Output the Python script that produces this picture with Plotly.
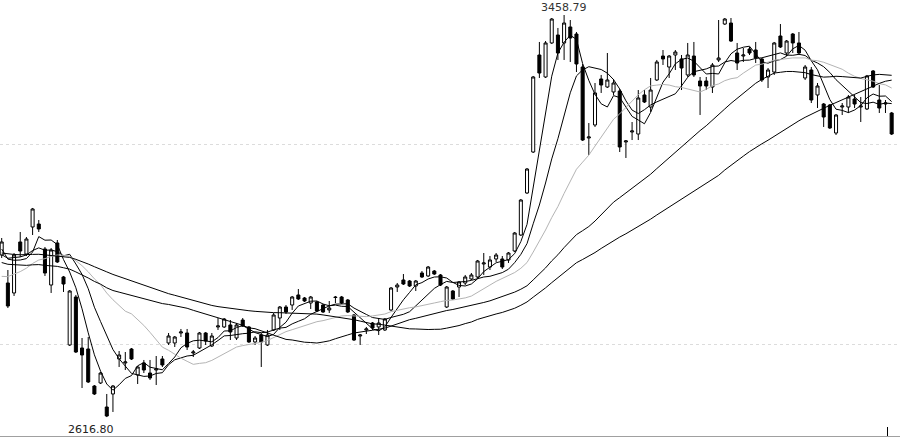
import pandas as pd
import plotly.graph_objects as go

# Closes before the first visible candle (only used so the long moving averages start as in the picture)
prior_closes = [2990, 3005, 2998, 3012, 2985, 2995, 3008, 3020, 3002, 2990,
                2978, 2995, 3010, 3018, 3000, 2992, 2985, 3003, 3015, 3008,
                2996, 2988, 3000, 3012, 3006, 2994, 2982, 2990, 3004, 3010,
                2998, 2986, 2975, 2968, 2955, 2940, 2925, 2905, 2885,
                2870, 2858, 2850, 2862, 2845, 2855, 2868, 2860, 2872, 2885,
                2905, 2925, 2940, 2952, 2948, 2960, 2955, 2968, 2962, 2975]

opens = [2956.2, 2897.6, 2876.7, 2983.5, 2958.3, 3014.9, 3021.1, 2968.8, 2893.4, 2981.4,
         2910.2, 2767.8, 2868.3, 2761.5, 2759.4, 2681.9, 2688.2, 2637.9, 2665.2, 2738.5,
         2730.1, 2759.4, 2705.0, 2730.1, 2709.1, 2715.4, 2738.5, 2772.0, 2772.0, 2792.9,
         2792.9, 2751.0, 2761.5, 2792.9, 2765.7, 2805.5, 2805.5, 2809.7, 2782.4, 2820.1,
         2805.5, 2774.1, 2788.7, 2767.8, 2799.2, 2824.3, 2847.3, 2851.5, 2872.5, 2866.2,
         2855.7, 2857.8, 2851.5, 2841.1, 2868.3, 2868.3, 2862.0, 2830.6, 2786.6, 2799.2,
         2813.8, 2805.5, 2799.2, 2841.1, 2889.2, 2903.9, 2901.8, 2891.3, 2918.5, 2912.3,
         2922.7, 2914.4, 2847.3, 2880.8, 2889.2, 2897.6, 2906.0, 2910.2, 2937.4, 2931.1,
         2947.9, 2947.9, 2945.8, 2964.6, 2998.1, 3086.1, 3171.9, 3375.0, 3329.0, 3400.2,
         3416.9, 3400.2, 3433.7, 3419.0, 3349.9, 3201.2, 3228.5, 3324.8, 3308.0, 3297.6,
         3299.6, 3192.9, 3213.8, 3209.6, 3291.3, 3266.1, 3322.7, 3372.9, 3349.9, 3375.0,
         3366.7, 3333.2, 3372.9, 3320.6, 3320.6, 3308.0, 3364.6, 3439.9, 3442.0, 3379.2,
         3372.9, 3387.6, 3385.5, 3366.7, 3329.0, 3339.4, 3414.8, 3379.2, 3419.0, 3400.2,
         3326.9, 3343.6, 3291.3, 3272.4, 3270.3, 3211.7, 3266.1, 3266.1, 3282.9, 3266.1,
         3262.0, 3341.5, 3280.8, 3272.4, 3253.6]

highs = [2991.8, 2924.8, 2960.4, 3004.4, 2993.9, 3054.7, 3029.5, 2973.0, 2970.9, 2987.6,
         2912.3, 2882.9, 2872.5, 2782.4, 2784.5, 2684.0, 2711.2, 2665.2, 2684.0, 2755.2,
         2753.1, 2761.5, 2723.8, 2736.4, 2736.4, 2744.7, 2744.7, 2792.9, 2786.6, 2801.3,
         2801.3, 2757.3, 2795.0, 2795.0, 2792.9, 2824.3, 2824.3, 2820.1, 2813.8, 2824.3,
         2807.6, 2786.6, 2792.9, 2799.2, 2834.8, 2849.4, 2851.5, 2870.4, 2885.0, 2868.3,
         2870.4, 2859.9, 2853.6, 2859.9, 2870.4, 2870.4, 2864.1, 2832.7, 2790.8, 2805.5,
         2815.9, 2824.3, 2824.3, 2889.2, 2897.6, 2916.4, 2903.9, 2903.9, 2922.7, 2933.2,
         2924.8, 2916.4, 2891.3, 2882.9, 2901.8, 2914.4, 2918.5, 2945.8, 2960.4, 2954.1,
         2960.4, 2954.1, 2962.5, 3004.4, 3073.5, 3138.4, 3331.1, 3402.3, 3404.3, 3452.5,
         3431.6, 3458.79, 3448.3, 3423.2, 3356.2, 3232.6, 3316.4, 3333.2, 3379.2, 3324.8,
         3303.8, 3197.0, 3234.7, 3301.7, 3301.7, 3326.9, 3364.6, 3385.5, 3375.0, 3385.5,
         3375.0, 3400.2, 3402.3, 3329.0, 3329.0, 3358.3, 3448.3, 3452.5, 3452.5, 3400.2,
         3389.7, 3391.8, 3402.3, 3368.8, 3347.8, 3402.3, 3439.9, 3406.4, 3421.1, 3423.2,
         3354.1, 3349.9, 3316.4, 3274.5, 3272.4, 3251.5, 3274.5, 3291.3, 3291.3, 3287.1,
         3333.2, 3343.6, 3312.2, 3280.8, 3255.7]

lows = [2950.0, 2845.2, 2870.4, 2952.0, 2954.1, 2998.1, 3004.4, 2912.3, 2876.7, 2939.5,
        2878.8, 2765.7, 2751.0, 2677.7, 2688.2, 2663.1, 2686.1, 2616.8, 2627.5, 2721.7,
        2715.4, 2736.4, 2686.1, 2709.1, 2694.5, 2684.0, 2721.7, 2767.8, 2763.6, 2784.5,
        2757.3, 2742.6, 2759.4, 2767.8, 2763.6, 2799.2, 2803.4, 2778.2, 2778.2, 2805.5,
        2772.0, 2767.8, 2721.7, 2765.7, 2797.1, 2799.2, 2832.7, 2841.1, 2862.0, 2857.8,
        2843.2, 2836.9, 2834.8, 2834.8, 2855.7, 2853.6, 2834.8, 2776.2, 2767.8, 2790.8,
        2799.2, 2788.7, 2797.1, 2839.0, 2878.8, 2893.4, 2889.2, 2880.8, 2908.1, 2910.2,
        2914.4, 2891.3, 2845.2, 2862.0, 2868.3, 2893.4, 2903.9, 2908.1, 2914.4, 2924.8,
        2941.6, 2926.9, 2939.5, 2962.5, 2996.0, 3084.0, 3169.8, 3326.9, 3326.9, 3398.1,
        3364.6, 3364.6, 3360.4, 3339.4, 3195.0, 3165.6, 3224.3, 3295.5, 3305.9, 3291.3,
        3171.9, 3159.4, 3197.0, 3197.0, 3274.5, 3255.7, 3320.6, 3354.1, 3326.9, 3343.6,
        3301.7, 3329.0, 3329.0, 3249.4, 3301.7, 3295.5, 3360.4, 3437.9, 3402.3, 3343.6,
        3360.4, 3375.0, 3358.3, 3318.5, 3305.9, 3333.2, 3389.7, 3372.9, 3379.2, 3375.0,
        3322.7, 3274.5, 3264.0, 3224.3, 3220.1, 3207.5, 3249.4, 3253.6, 3264.0, 3234.7,
        3259.9, 3305.9, 3253.6, 3253.6, 3207.5]

closes = [2983.5, 2849.4, 2956.2, 2964.6, 2989.7, 3052.6, 3010.7, 2918.5, 2966.7, 2941.6,
          2895.5, 2880.8, 2753.1, 2746.8, 2690.3, 2665.2, 2709.1, 2619.1, 2681.9, 2746.8,
          2732.2, 2738.5, 2721.7, 2715.4, 2698.7, 2717.5, 2725.9, 2786.6, 2784.5, 2795.0,
          2763.6, 2753.1, 2792.9, 2776.2, 2786.6, 2807.6, 2822.2, 2795.0, 2809.7, 2807.6,
          2774.1, 2782.4, 2774.1, 2788.7, 2830.6, 2847.3, 2836.9, 2868.3, 2864.1, 2859.9,
          2868.3, 2839.0, 2836.9, 2845.2, 2867.2, 2855.7, 2836.9, 2778.2, 2788.7, 2801.3,
          2803.4, 2813.8, 2822.2, 2887.1, 2893.4, 2895.5, 2891.3, 2901.8, 2910.2, 2931.1,
          2916.4, 2893.4, 2889.2, 2864.1, 2899.7, 2910.2, 2914.4, 2943.7, 2939.5, 2945.8,
          2956.2, 2931.1, 2960.4, 3002.3, 3071.4, 3136.3, 3329.0, 3337.3, 3400.2, 3450.4,
          3379.2, 3442.0, 3410.6, 3356.2, 3197.0, 3203.3, 3295.5, 3312.2, 3322.7, 3316.4,
          3182.4, 3195.0, 3215.9, 3285.0, 3276.6, 3301.7, 3360.4, 3366.7, 3372.9, 3381.3,
          3347.8, 3375.0, 3333.2, 3310.1, 3310.1, 3354.1, 3368.8, 3450.4, 3404.3, 3358.3,
          3375.0, 3379.2, 3368.8, 3322.7, 3343.6, 3400.2, 3391.8, 3404.3, 3400.2, 3379.2,
          3349.9, 3280.8, 3310.1, 3245.2, 3222.2, 3249.4, 3268.2, 3287.1, 3272.4, 3268.2,
          3331.1, 3308.0, 3264.0, 3274.5, 3209.6]

ma_periods = [5, 10, 20, 40, 60]
ma_colors = ["#000000", "#000000", "#b4b4b4", "#000000", "#000000"]

grid_levels = [3186.6, 2767.8]
date_tick = [143.4]
max_label = "3458.79"
min_label = "2616.80"

n = len(closes)
idx = list(range(n))
full = pd.Series(prior_closes + closes)

fig = go.Figure()
for p, col in zip(ma_periods, ma_colors):
    ma = full.rolling(p, min_periods=1).mean().iloc[-n:].tolist()
    fig.add_trace(go.Scatter(x=idx, y=ma, mode="lines",
                             line=dict(color=col, width=1), hoverinfo="skip",
                             showlegend=False))

fig.add_trace(go.Candlestick(
    x=idx, open=opens, high=highs, low=lows, close=closes,
    increasing=dict(line=dict(color="#000000", width=1), fillcolor="#ffffff"),
    decreasing=dict(line=dict(color="#000000", width=1), fillcolor="#000000"),
    whiskerwidth=0, showlegend=False))

imax = highs.index(max(highs))
imin = lows.index(min(lows))
fig.add_annotation(x=imax, y=highs[imax], text=max_label, showarrow=False,
                   yanchor="bottom", xanchor="center", yshift=-1,
                   font=dict(family="DejaVu Sans", size=11, color="#333333"))
fig.add_annotation(x=imin, y=lows[imin], text=min_label, showarrow=False,
                   yanchor="top", xanchor="right", xshift=9, yshift=-4,
                   font=dict(family="DejaVu Sans", size=11, color="#222222"))

fig.update_layout(
    width=900, height=438,
    margin=dict(l=0, r=0, t=0, b=2),
    paper_bgcolor="white", plot_bgcolor="white",
    showlegend=False,
    xaxis=dict(range=[-0.275, 145.35], showgrid=False, zeroline=False,
               showticklabels=False, rangeslider=dict(visible=False),
               showline=True, linecolor="#a0a0a0", linewidth=1,
               tickvals=date_tick, ticks="inside", ticklen=9,
               tickcolor="#000000", tickwidth=1),
    yaxis=dict(range=[2577.2, 3490.2], showticklabels=False, zeroline=False,
               tickvals=grid_levels, showgrid=True, gridcolor="#dcdcdc",
               griddash="3px,3px", gridwidth=1),
)

fig.write_html("out.html",
               config={"displayModeBar": False},
               post_script="document.body.style.margin='0';"
                           "document.body.style.overflow='hidden';")
